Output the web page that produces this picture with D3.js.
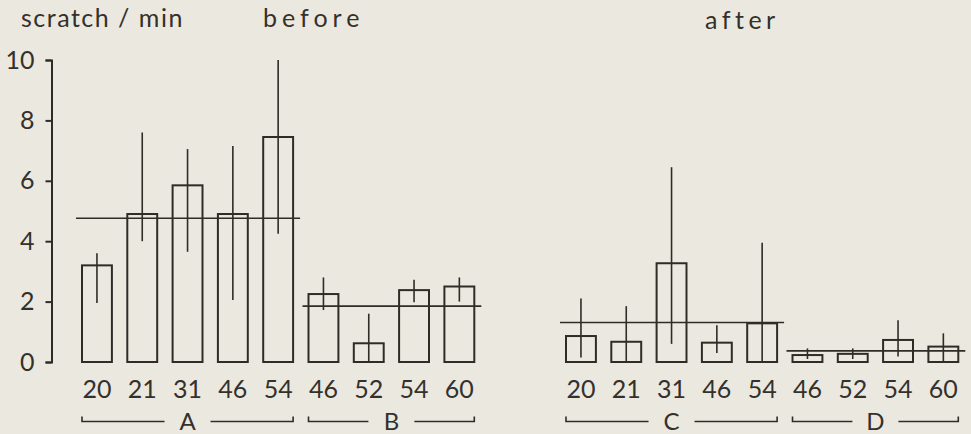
<!DOCTYPE html>
<html>
<head>
<meta charset="utf-8">
<script src="https://cdn.jsdelivr.net/npm/d3@7"></script>
<style>
  body { margin: 0; background: #ebe8df; }
  svg { display: block; }
  text { font-family: Lato, "DejaVu Sans", sans-serif; font-weight: 400; fill: #34312c; }
</style>
</head>
<body>
<div id="vis"></div>
<script>
const FRAME_WIDTH = 971;
const FRAME_HEIGHT = 434;
const INK = "#2f2c28";
const TEXT_INK = "#34312c";
const FONT = "Lato, 'DejaVu Sans', sans-serif";

// animal numbers in each group
const IDS_A = [20, 21, 31, 46, 54];
const IDS_B = [46, 52, 54, 60];
const IDS_C = [20, 21, 31, 46, 54];
const IDS_D = [46, 52, 54, 60];

// scratch / min, bar heights
const MEAN_A = [3.2, 4.9, 5.85, 4.9, 7.45];
const MEAN_B = [2.25, 0.62, 2.38, 2.5];
const MEAN_C = [0.86, 0.67, 3.27, 0.64, 1.28];
const MEAN_D = [0.23, 0.27, 0.73, 0.51];

// error bar ends
const LOW_A = [1.95, 4.0, 3.65, 2.05, 4.25];
const HIGH_A = [3.6, 7.6, 7.05, 7.15, 10.0];
const LOW_B = [1.72, 0, 1.98, 2.0];
const HIGH_B = [2.8, 1.6, 2.72, 2.8];
const LOW_C = [0.15, 0, 0.6, 0.3, 0];
const HIGH_C = [2.1, 1.85, 6.45, 1.22, 3.95];
const LOW_D = [0.1, 0.1, 0.18, 0];
const HIGH_D = [0.45, 0.45, 1.38, 0.95];

// group averages (horizontal lines)
const GROUP_NAMES = ["A", "B", "C", "D"];
const GROUP_MEANS = [4.76, 1.85, 1.31, 0.37];

const Y_TICKS = [0, 2, 4, 6, 8, 10];
const TITLES = ["scratch / min", "before", "after"];

function makeGroup(name, ids, mean, low, high) {
  return ids.map((id, i) => ({group: name, key: name + id, id: id, mean: mean[i], low: low[i], high: high[i]}));
}

const LEFT = makeGroup("A", IDS_A, MEAN_A, LOW_A, HIGH_A).concat(makeGroup("B", IDS_B, MEAN_B, LOW_B, HIGH_B));
const RIGHT = makeGroup("C", IDS_C, MEAN_C, LOW_C, HIGH_C).concat(makeGroup("D", IDS_D, MEAN_D, LOW_D, HIGH_D));

const FRAME = d3.select("#vis")
  .append("svg")
    .attr("width", FRAME_WIDTH)
    .attr("height", FRAME_HEIGHT);

const Y_SCALE = d3.scaleLinear()
  .domain([0, 10])
  .range([362, 60]);

// y axis, left panel only
const yAxis = FRAME.append("g")
  .attr("transform", "translate(51.5,0)")
  .call(d3.axisLeft(Y_SCALE).tickValues(Y_TICKS).tickSize(6).tickPadding(11));
yAxis.selectAll("path, line").attr("stroke", INK).attr("stroke-width", 2);
yAxis.selectAll("text")
  .attr("fill", TEXT_INK)
  .style("font-size", "25px")
  .style("font-family", FONT);

function drawPanel(data, range) {
  const X_SCALE = d3.scaleBand()
    .domain(data.map(d => d.key))
    .range(range)
    .paddingInner(0.34)
    .paddingOuter(0.17);
  const bw = X_SCALE.bandwidth();

  const g = FRAME.append("g");

  g.selectAll(".bar")
    .data(data)
    .enter()
    .append("rect")
      .attr("x", d => X_SCALE(d.key))
      .attr("y", d => Y_SCALE(d.mean))
      .attr("width", bw)
      .attr("height", d => Y_SCALE(0) - Y_SCALE(d.mean))
      .attr("fill", "none")
      .attr("stroke", INK)
      .attr("stroke-width", 2);

  g.selectAll(".err")
    .data(data)
    .enter()
    .append("line")
      .attr("x1", d => X_SCALE(d.key) + bw / 2)
      .attr("x2", d => X_SCALE(d.key) + bw / 2)
      .attr("y1", d => Y_SCALE(d.low))
      .attr("y2", d => Y_SCALE(d.high))
      .attr("stroke", INK)
      .attr("stroke-width", 1.6);

  // animal numbers under the bars
  const xAxis = g.append("g")
    .attr("transform", "translate(0," + Y_SCALE(0) + ")")
    .call(d3.axisBottom(X_SCALE).tickSize(0).tickPadding(18).tickFormat(k => data.find(d => d.key === k).id));
  xAxis.select(".domain").remove();
  xAxis.selectAll("text")
    .attr("fill", TEXT_INK)
    .style("font-size", "25px")
    .style("font-family", FONT);

  // group mean line and bracket
  const groups = Array.from(new Set(data.map(d => d.group)));
  groups.forEach(name => {
    const rows = data.filter(d => d.group === name);
    const x0 = X_SCALE(rows[0].key);
    const x1 = X_SCALE(rows[rows.length - 1].key) + bw;
    const m = GROUP_MEANS[GROUP_NAMES.indexOf(name)];

    g.append("line")
      .attr("x1", x0 - 6)
      .attr("x2", x1 + 7)
      .attr("y1", Y_SCALE(m))
      .attr("y2", Y_SCALE(m))
      .attr("stroke", INK)
      .attr("stroke-width", 1.6);

    const c = (x0 + x1) / 2;
    g.append("path")
      .attr("d", "M" + x0 + ",416.5V421.5H" + (c - 23) + "M" + (c + 23) + ",421.5H" + x1 + "V416.5")
      .attr("fill", "none")
      .attr("stroke", INK)
      .attr("stroke-width", 1.6);

    g.append("text")
      .attr("x", c)
      .attr("y", 430)
      .attr("text-anchor", "middle")
      .style("font-size", "24px")
      .text(name);
  });
}

drawPanel(LEFT, [74.3, 482]);
drawPanel(RIGHT, [558.3, 966]);

// titles
FRAME.append("text")
  .attr("x", 21)
  .attr("y", 26.5)
  .style("font-size", "25px")
  .style("letter-spacing", "1.5px")
  .text(TITLES[0]);

FRAME.append("text")
  .attr("x", 263)
  .attr("y", 26.5)
  .style("font-size", "25px")
  .style("letter-spacing", "5px")
  .text(TITLES[1]);

FRAME.append("text")
  .attr("x", 705)
  .attr("y", 29)
  .style("font-size", "25px")
  .style("letter-spacing", "4.5px")
  .text(TITLES[2]);
</script>
</body>
</html>
